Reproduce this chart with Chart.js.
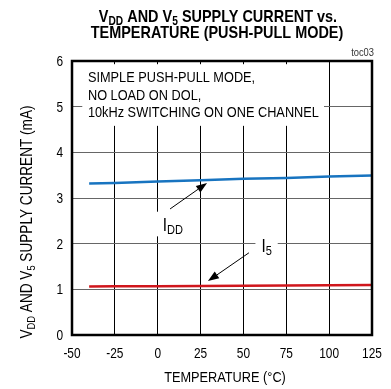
<!DOCTYPE html>
<html>
<head>
<meta charset="utf-8">
<script src="https://cdn.jsdelivr.net/npm/chart.js@4"></script>
<style>
  html, body { margin: 0; padding: 0; background: #fff; }
  #wrap { width: 391px; height: 389px; }
</style>
</head>
<body>
<div id="wrap"><canvas id="chart" width="391" height="389"></canvas></div>
<script>
// --- data ---
const temps = [-40, -25, 0, 25, 50, 75, 100, 125];
const iddValues = [3.32, 3.33, 3.36, 3.39, 3.42, 3.44, 3.47, 3.49];
const i5Values = [1.06, 1.065, 1.07, 1.075, 1.08, 1.085, 1.09, 1.095];
const xTicks = [-50, -25, 0, 25, 50, 75, 100, 125];
const yTicks = [0, 1, 2, 3, 4, 5, 6];
const noteLines = ['SIMPLE PUSH-PULL MODE,', 'NO LOAD ON DOL,', '10kHz SWITCHING ON ONE CHANNEL'];

const FONT = "'Liberation Sans', Arial, sans-serif";
const SX = 0.85; // the reference uses a condensed face

// parts: [text, isSub]; sub size given separately
function partsWidth(ctx, parts, size, subSize, weight) {
  let w = 0;
  parts.forEach(([t, sub]) => {
    ctx.font = weight + ' ' + (sub ? subSize : size) + 'px ' + FONT;
    w += ctx.measureText(t).width;
  });
  return w * SX;
}
function drawText(ctx, parts, x, y, size, subSize, weight, align) {
  const w = partsWidth(ctx, parts, size, subSize, weight);
  let x0 = x;
  if (align === 'center') x0 = x - w / 2;
  if (align === 'right') x0 = x - w;
  ctx.save();
  ctx.translate(x0, y);
  ctx.scale(SX, 1);
  ctx.textAlign = 'left';
  ctx.textBaseline = 'alphabetic';
  let cx = 0;
  parts.forEach(([t, sub]) => {
    ctx.font = weight + ' ' + (sub ? subSize : size) + 'px ' + FONT;
    ctx.fillText(t, cx, sub ? size * 0.18 : 0);
    cx += ctx.measureText(t).width;
  });
  ctx.restore();
}
function arrow(ctx, x1, y1, x2, y2) {
  const a = Math.atan2(y2 - y1, x2 - x1);
  const len = 11, half = 4;
  ctx.strokeStyle = '#000';
  ctx.lineWidth = 1;
  ctx.beginPath();
  ctx.moveTo(x1, y1);
  ctx.lineTo(x2 - Math.cos(a) * len, y2 - Math.sin(a) * len);
  ctx.stroke();
  ctx.beginPath();
  ctx.moveTo(x2, y2);
  ctx.lineTo(x2 - Math.cos(a) * len - Math.sin(a) * half, y2 - Math.sin(a) * len + Math.cos(a) * half);
  ctx.lineTo(x2 - Math.cos(a) * len + Math.sin(a) * half, y2 - Math.sin(a) * len - Math.cos(a) * half);
  ctx.closePath();
  ctx.fillStyle = '#000';
  ctx.fill();
}
function box(ctx, xs, ys, x1, y1, x2, y2) {
  const px1 = xs.getPixelForValue(x1), py1 = ys.getPixelForValue(y1);
  ctx.fillRect(px1, py1, xs.getPixelForValue(x2) - px1, ys.getPixelForValue(y2) - py1);
}

const decorations = {
  id: 'decorations',
  beforeDatasetsDraw(chart) {
    const ctx = chart.ctx;
    const xs = chart.scales.x, ys = chart.scales.y;
    ctx.save();
    ctx.fillStyle = '#fff';
    // white boxes behind the notes and labels
    box(ctx, xs, ys, -44, 5.93, 97, 4.58);
    box(ctx, xs, ys, -4, 2.7, 14, 2.16);
    box(ctx, xs, ys, 57, 2.1, 70, 1.75);
    ctx.restore();
  },
  afterDatasetsDraw(chart) {
    const ctx = chart.ctx;
    const xs = chart.scales.x, ys = chart.scales.y;
    const a = chart.chartArea;
    ctx.save();
    // frame
    ctx.strokeStyle = '#000';
    ctx.lineWidth = 2.5;
    ctx.strokeRect(a.left, a.top, a.right - a.left, a.bottom - a.top);

    ctx.fillStyle = '#000';
    // tick labels
    xTicks.forEach(v => drawText(ctx, [[String(v), 0]], xs.getPixelForValue(v), a.bottom + 23, 14, 10, 'normal', 'center'));
    yTicks.forEach(v => drawText(ctx, [[String(v), 0]], a.left - 9, ys.getPixelForValue(v) + 5, 14, 10, 'normal', 'right'));
    // title
    const t1 = [['V', 0], ['DD', 1], [' AND V', 0], ['5', 1], [' SUPPLY CURRENT vs.', 0]];
    const t2 = [['TEMPERATURE (PUSH-PULL MODE)', 0]];
    drawText(ctx, t1, 218, 22, 17, 12, 'bold', 'center');
    drawText(ctx, t2, 217, 38, 17, 12, 'bold', 'center');
    // toc
    ctx.fillStyle = '#333';
    drawText(ctx, [['toc03', 0]], 374, 56, 11, 8, 'normal', 'right');
    ctx.fillStyle = '#000';
    // notes
    const nb = [5.54, 5.15, 4.77];
    noteLines.forEach((l, i) => drawText(ctx, [[l, 0]], xs.getPixelForValue(-40.7), ys.getPixelForValue(nb[i]), 15, 10, 'normal', 'left'));
    // curve labels
    drawText(ctx, [['I', 0], ['DD', 1]], xs.getPixelForValue(2.9), ys.getPixelForValue(2.28), 18, 13, 'normal', 'left');
    drawText(ctx, [['I', 0], ['5', 1]], xs.getPixelForValue(60.5), ys.getPixelForValue(1.82), 18, 13, 'normal', 'left');
    arrow(ctx, xs.getPixelForValue(7.2), ys.getPixelForValue(2.76), xs.getPixelForValue(28.8), ys.getPixelForValue(3.33));
    arrow(ctx, xs.getPixelForValue(53.2), ys.getPixelForValue(1.8), xs.getPixelForValue(29.3), ys.getPixelForValue(1.18));
    // x title
    drawText(ctx, [['TEMPERATURE (\u00B0C)', 0]], 225, 382, 15, 10, 'normal', 'center');
    // y title
    ctx.translate(32, 222);
    ctx.rotate(-Math.PI / 2);
    const yt = [['V', 0], ['DD', 1], [' AND V', 0], ['5', 1], [' SUPPLY CURRENT (mA)', 0]];
    drawText(ctx, yt, 0, 0, 16, 11, 'normal', 'center');
    ctx.restore();
  }
};

new Chart(document.getElementById('chart'), {
  type: 'line',
  data: {
    datasets: [
      { label: 'IDD', data: temps.map((t, i) => ({ x: t, y: iddValues[i] })), borderColor: '#1874c0', borderWidth: 2.5, pointRadius: 0, tension: 0 },
      { label: 'I5', data: temps.map((t, i) => ({ x: t, y: i5Values[i] })), borderColor: '#d0161c', borderWidth: 2.5, pointRadius: 0, tension: 0 }
    ]
  },
  options: {
    responsive: false,
    animation: false,
    events: [],
    layout: { padding: { top: 61, right: 19, left: 0, bottom: 0 } },
    plugins: { legend: { display: false }, tooltip: { enabled: false } },
    scales: {
      x: {
        type: 'linear', min: -50, max: 125,
        afterBuildTicks: s => { s.ticks = xTicks.map(v => ({ value: v })); },
        afterFit: s => { s.height = 54; },
        grid: { color: '#000', lineWidth: 1, drawTicks: false },
        border: { display: false },
        ticks: { display: false }
      },
      y: {
        min: 0, max: 6,
        afterBuildTicks: s => { s.ticks = yTicks.map(v => ({ value: v })); },
        afterFit: s => { s.width = 72; },
        grid: { color: '#666', lineWidth: 1, drawTicks: false },
        border: { display: false },
        ticks: { display: false }
      }
    }
  },
  plugins: [decorations]
});
</script>
</body>
</html>
